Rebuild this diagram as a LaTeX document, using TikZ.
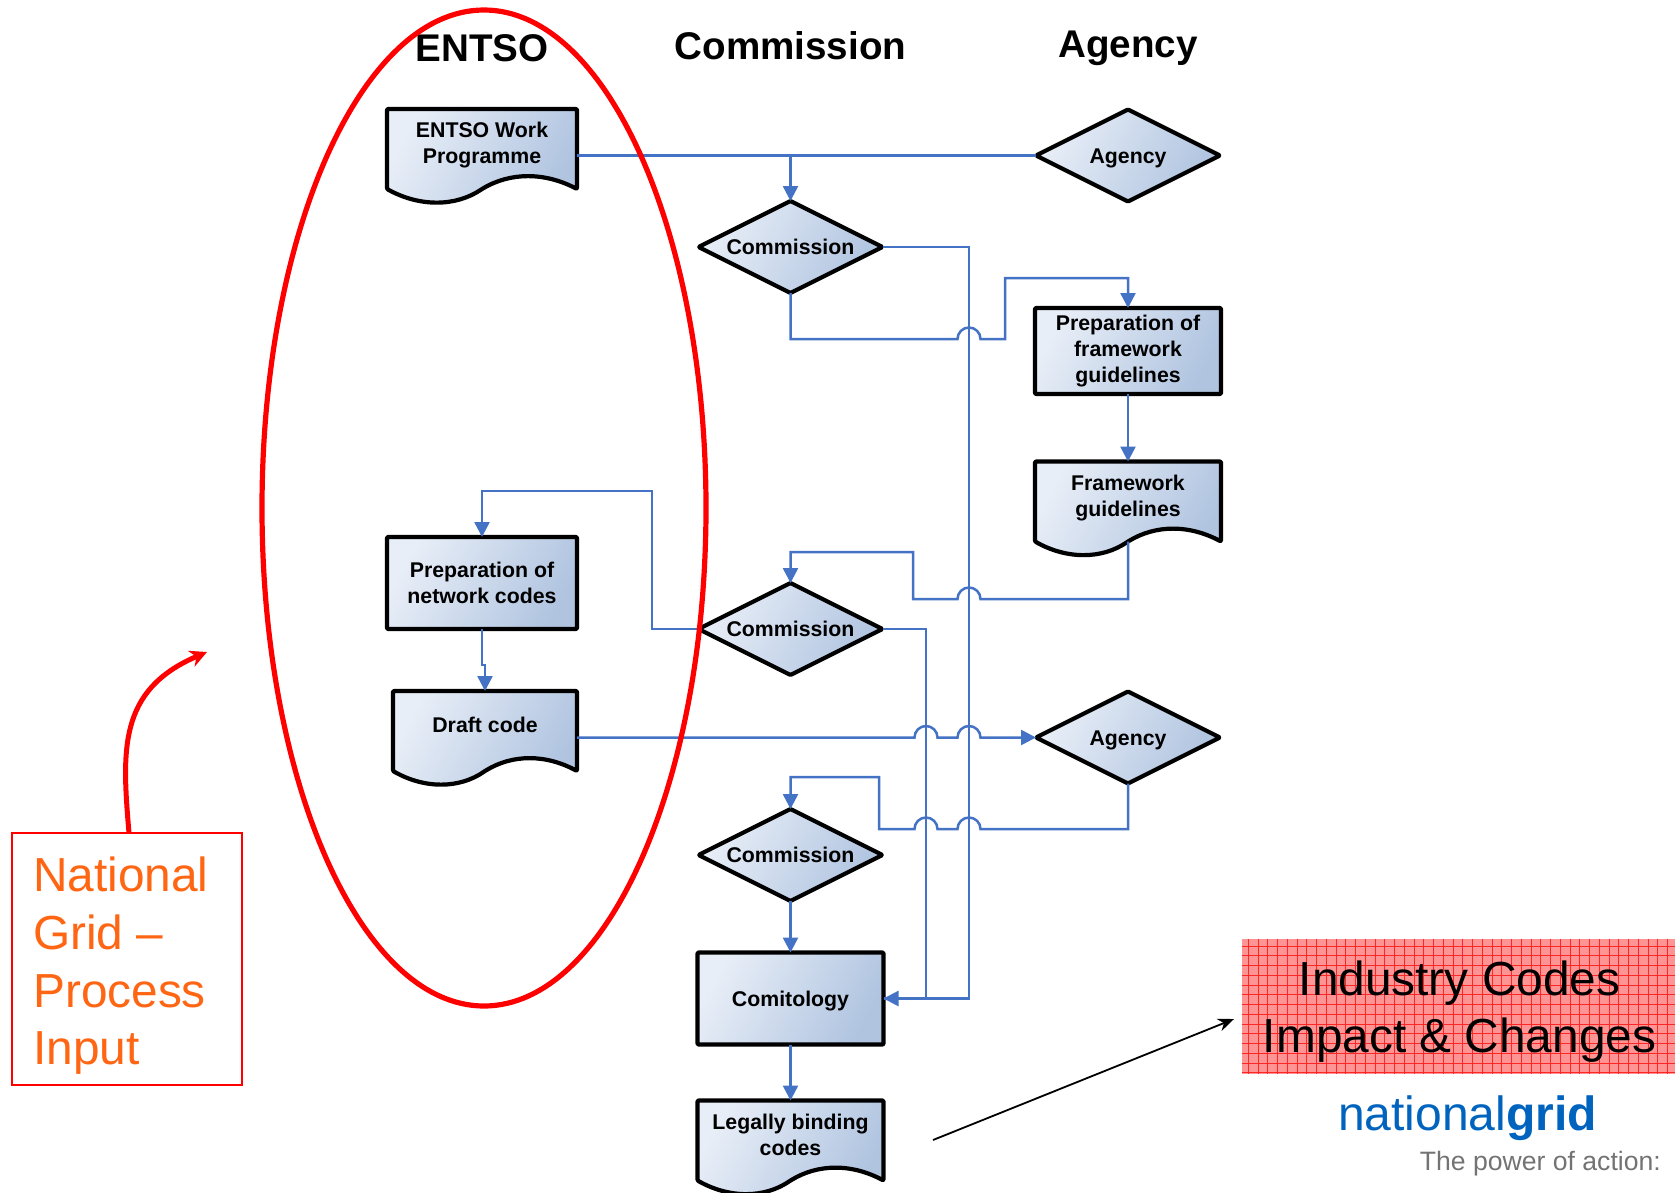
\documentclass[tikz,border=0pt]{standalone}
\usepackage{fontspec}
\setmainfont{Liberation Sans}
\usetikzlibrary{arrows.meta, calc, shapes.geometric}

\definecolor{flowblue}{RGB}{68,114,196}
\definecolor{shadelight}{RGB}{232,238,247}
\definecolor{shadedark}{RGB}{176,196,224}
\definecolor{noteorange}{RGB}{255,102,20}
\definecolor{gridblue}{RGB}{0,100,190}

\tikzset{
  boxedge/.style = {draw = black, line width = 4.2pt, rounded corners = 1pt, line join = round,
    shading = axis, top color = shadelight, bottom color = shadedark, shading angle = 62},
  boxtext/.style = {font = \fontsize{21.3}{26}\bfseries\selectfont, align = center, inner sep = 0pt},
  procbox/.style = {boxedge, boxtext, rectangle, minimum width = 186pt, minimum height = 92pt, outer sep = 0pt},
  decision/.style = {boxedge, boxtext, diamond, aspect = 2, minimum width = 184pt, minimum height = 92pt, outer sep = 0pt, text height = 15.5pt, text depth = 0pt},
  docbox/.style = {rectangle, inner sep = 0pt, outer sep = 0pt, minimum height = 93pt},
  header/.style = {font = \fontsize{38.6}{44}\bfseries\selectfont, inner sep = 0pt, text height = 27.5pt, text depth = 0pt},
  flowline/.style = {draw = flowblue, line width = 2.5pt, line join = miter},
  flowarrow/.style = {flowline, -{Triangle[length = 15pt, width = 15pt]}},
  hop ltr/.style = {start angle = 180, end angle = 360, radius = 11.5},
  hop rtl/.style = {start angle = 0, end angle = -180, radius = 11.5},
}

% document shape with wavy lower edge, text sits above the wave
\newcommand{\wavept}[3]{([yshift=#3pt]$(#1.south west)!#2!(#1.south east)$)}
\newcommand{\docnode}[4]{
  \node[docbox, minimum width = #3pt] (#1) at (#2) {};
  \path[boxedge] (#1.north west) -- (#1.north east) -- \wavept{#1}{1}{13}
    .. controls \wavept{#1}{0.83}{30} and \wavept{#1}{0.65}{30} .. \wavept{#1}{0.5}{13}
    .. controls \wavept{#1}{0.36}{-5} and \wavept{#1}{0.17}{-5} .. \wavept{#1}{0}{13} -- cycle;
  \node[boxtext, yshift = -0.7pt] (#1text) at (#1) {#4\\\mbox{}};
}

\begin{document}
\begin{tikzpicture}[x = 1pt, y = -1pt]
\useasboundingbox (0,0) rectangle (1675,1192);

\node[header] (hentso) at (482,48) {ENTSO};
\node[header] (hcomm) at (790.5,46) {Commission};
\node[header] (hagency) at (1128,44) {Agency};

% left column
\docnode{workprog}{482,155.5}{190}{ENTSO Work\\Programme}
\node[procbox, minimum width = 190pt] (prepnet) at (482,583) {Preparation of\\network codes};
\docnode{draft}{485,737.5}{184}{Draft code}

% middle column
\node[decision] (commA) at (790.5,247) {Commission};
\node[decision] (commB) at (790.5,629) {Commission};
\node[decision] (commC) at (790.5,855) {Commission};
\node[procbox, text height = 15.5pt, text depth = 0pt] (comitology) at (790.5,998.5) {Comitology};
\docnode{binding}{790.5,1147}{186}{Legally binding\\codes}

% right column
\node[decision] (agencyA) at (1128,155.5) {Agency};
\node[procbox, minimum height = 86pt] (prepfw) at (1128,351) {Preparation of\\framework\\guidelines};
\docnode{fwguide}{1128,508}{186}{Framework\\guidelines}
\node[decision] (agencyB) at (1128,737.5) {Agency};

% connectors
\draw[flowline] (workprog.east) -- (agencyA.west);
\draw[flowarrow] (commA.north |- workprog.east) -- (commA.north);
\draw[flowarrow] (commA.east) -- (969,247) -- (969,998.5) -- (comitology.east);
\draw[flowarrow] (commA.south) -- (790.5,339) -- (957.5,339) arc[hop ltr] -- (1005,339) -- (1005,278) -- (1128,278) -- (prepfw.north);
\draw[flowarrow] (prepfw.south) -- (fwguide.north);
\draw[flowarrow] ([yshift=13pt]fwguide.south) -- (1128,599) -- (980.5,599) arc[hop rtl] -- (913,599) -- (913,552) -- (790.5,552) -- (commB.north);
\draw[flowarrow] (commB.west) -- (652,629) -- (652,491) -- (482,491) -- (prepnet.north);
\draw[flowarrow] (prepnet.south) -- (482,665) -- (485,665) -- (draft.north);
\draw[flowline] (commB.east) -- (926,629) -- (926,998.5) -- (comitology.east);
\draw[flowarrow] (draft.east) -- (914.5,737.5) arc[hop ltr] -- (957.5,737.5) arc[hop ltr] -- (agencyB.west);
\draw[flowarrow] (agencyB.south) -- (1128,829) -- (980.5,829) arc[hop rtl] -- (937.5,829) arc[hop rtl] -- (879,829) -- (879,777) -- (790.5,777) -- (commC.north);
\draw[flowarrow] (commC.south) -- (comitology.north);
\draw[flowarrow] (comitology.south) -- (binding.north);

% red ring round the ENTSO column
\draw[red, line width = 5.2pt] (484,508) ellipse [x radius = 222, y radius = 498];

% note on the left
\node[draw = red, line width = 2pt, minimum width = 230pt, minimum height = 252pt, outer sep = 0pt] (notebox) at (127,959) {};
\node[anchor = north west, text = noteorange, align = left, inner sep = 0pt, font = \fontsize{47.8}{57.7}\selectfont] (notetext) at (33,857) {National\\Grid --\\Process\\Input};
\coordinate (notetip) at (207,652);
\draw[red, line width = 5pt, -{Stealth[length = 17pt, width = 17pt]}] ([xshift=2pt]notebox.north) .. controls (122,750) and (118,690) .. (notetip);

% codes box and logo
\fill[red!42] (1242,939) rectangle (1675,1074);
\draw[red!85, line width = 0.5pt, step = 9.75pt] (1242,939) grid (1675,1074);
\node[font = \fontsize{47.8}{57}\selectfont, align = center, inner sep = 0pt] (codesbox) at (1459.5,1012) {Industry Codes\\Impact \& Changes};
\coordinate (codesarrow) at (933,1140);
\coordinate (codestip) at (1234,1019);
\draw[line width = 1.8pt, -{Stealth[length = 16pt, width = 13pt]}] (codesarrow) -- (codestip);
\node[anchor = base west, inner sep = 0pt, text = gridblue, font = \fontsize{48}{50}\selectfont] (logo) at (1338,1130) {national\textbf{grid}};
\node[anchor = base east, inner sep = 0pt, text = black!55, font = \fontsize{26.6}{30}\selectfont] (slogan) at (1661,1170) {The power of action:};
\end{tikzpicture}
\end{document}
